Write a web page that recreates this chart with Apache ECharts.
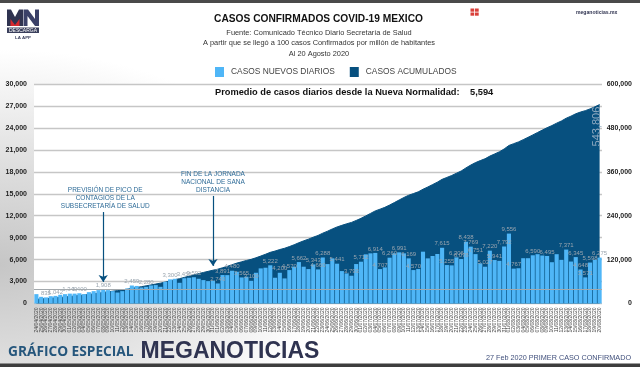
<!DOCTYPE html>
<html><head><meta charset="utf-8">
<style>
html,body{margin:0;padding:0;width:640px;height:367px;overflow:hidden;background:#fff;}
body{background:radial-gradient(ellipse 330px 215px at 0% 72%,#c6c6c6 0%,#dedede 45%,rgba(255,255,255,0) 100%),#fff;}
#c{width:640px;height:367px;}
</style>
<script src="https://cdn.jsdelivr.net/npm/echarts@6/dist/echarts.min.js"></script>
</head><body><div id="c"></div>
<script>
const categories = [
"24/04/2020","25/04/2020","26/04/2020","27/04/2020","28/04/2020","29/04/2020","30/04/2020",
"01/05/2020","02/05/2020","03/05/2020","04/05/2020","05/05/2020","06/05/2020","07/05/2020","08/05/2020","09/05/2020","10/05/2020","11/05/2020","12/05/2020","13/05/2020","14/05/2020","15/05/2020","16/05/2020","17/05/2020","18/05/2020","19/05/2020","20/05/2020","21/05/2020","22/05/2020","23/05/2020","24/05/2020","25/05/2020","26/05/2020","27/05/2020","28/05/2020","29/05/2020","30/05/2020","31/05/2020",
"01/06/2020","02/06/2020","03/06/2020","04/06/2020","05/06/2020","06/06/2020","07/06/2020","08/06/2020","09/06/2020","10/06/2020","11/06/2020","12/06/2020","13/06/2020","14/06/2020","15/06/2020","16/06/2020","17/06/2020","18/06/2020","19/06/2020","20/06/2020","21/06/2020","22/06/2020","23/06/2020","24/06/2020","25/06/2020","26/06/2020","27/06/2020","28/06/2020","29/06/2020","30/06/2020",
"01/07/2020","02/07/2020","03/07/2020","04/07/2020","05/07/2020","06/07/2020","07/07/2020","08/07/2020","09/07/2020","10/07/2020","11/07/2020","12/07/2020","13/07/2020","14/07/2020","15/07/2020","16/07/2020","17/07/2020","18/07/2020","19/07/2020","20/07/2020","21/07/2020","22/07/2020","23/07/2020","24/07/2020","25/07/2020","26/07/2020","27/07/2020","28/07/2020","29/07/2020","30/07/2020","31/07/2020",
"01/08/2020","02/08/2020","03/08/2020","04/08/2020","05/08/2020","06/08/2020","07/08/2020","08/08/2020","09/08/2020","10/08/2020","11/08/2020","12/08/2020","13/08/2020","14/08/2020","15/08/2020","16/08/2020","17/08/2020","18/08/2020","19/08/2020","20/08/2020"];

const dailyCases = [
1280,914,835,1000,1042,1190,1280,1349,1349,1400,1280,1550,1690,1830,1908,1830,1690,1500,1690,2050,2459,2400,2190,2280,2470,2520,2280,2970,3300,3380,2830,3455,3520,3592,3380,3200,3060,
3110,2740,3891,3880,4480,4340,3565,3656,3100,4200,4800,4890,5222,3520,4200,3430,4570,5030,5662,5030,4707,5343,4660,6288,5390,6170,5441,4433,4113,3793,5393,5712,6718,6855,6914,
4707,4935,6260,6855,6991,6855,6169,4570,4707,7083,6169,6489,6763,7615,5255,5210,6306,6078,8438,7769,6751,5484,5027,7220,5941,
5827,7792,9556,4767,4821,6192,6192,6590,6740,6558,6495,5644,6740,5964,7371,5735,6345,4648,3571,5598,5964,6275];

const cumulativeCases = [
11600,12500,13340,14340,15380,16570,17850,19200,20550,21950,23230,24780,26470,28300,30210,32040,33730,35230,36920,38970,41430,43830,46020,48300,50770,53290,55570,58540,61740,65120,67950,71400,74920,78300,81680,84880,87940,
91050,93790,97670,101550,106030,110370,113935,117591,120691,124891,129691,134581,139803,143323,147523,150953,155523,160553,166215,171245,175952,181295,185955,192243,197633,203803,209244,213677,217790,221583,226976,232688,239406,246261,253175,
257882,262817,269077,275932,282923,289778,295947,300517,305224,312307,318476,324965,331728,339343,344598,349808,356114,362192,370630,378399,385150,390634,395661,402881,408822,
414649,422441,431997,436910,441731,447923,454115,460765,467505,474063,480621,486265,493005,498969,506441,512176,518596,523416,527096,532000,537600,543806];

const labelledDays = [2,4,7,9,14,20,23,28,31,33,38,39,41,43,45,49,51,53,55,58,59,60,63,66,68,71,72,74,76,78,79,85,86,88,89,90,91,92,94,95,96,98,99,100,104,107,111,113,114,115,116,118];

const leftTicks = {min:0,max:30000,interval:3000};
const rightTicks = {min:0,max:600000,interval:120000};
const referenceLevel = 1950;
const peakDate = "08/05/2020", peakArrow = [12500,2950], peakNote = "PREVISIÓN DE PICO DE\nCONTAGIOS DE LA\nSUBSECRETARÍA DE SALUD";
const endDate = "31/05/2020", endArrow = [14700,5140], endNote = "FIN DE LA JORNADA\nNACIONAL DE SANA\nDISTANCIA";

const FONT = '"Liberation Sans", Arial, sans-serif';
const BLUE = '#4fb6f7', DARK = '#07507f', NOTE = '#2f6c98', NAVY = '#2f3350';

const chart = echarts.init(document.getElementById('c'), null, {renderer:'canvas'});
const txt = (x,y,text,size,color,extra={}) => ({type:'text',x,y,silent:true,z:20,
  style:Object.assign({text,fontSize:size,fill:color,fontFamily:FONT,textVerticalAlign:'middle'},extra)});
const rect = (x,y,w,h,fill) => ({type:'rect',silent:true,z:20,shape:{x,y,width:w,height:h},style:{fill}});
const poly = (points,fill) => ({type:'polygon',silent:true,z:21,shape:{points},style:{fill}});

chart.setOption({
  animation:false,
  backgroundColor:'transparent',
  textStyle:{fontFamily:FONT},
  grid:{left:34,right:38,top:84,height:219.5,show:true,backgroundColor:'#fff',borderWidth:0},
  legend:{
    left:210,top:62,itemWidth:9,itemHeight:10,itemGap:15,icon:'rect',
    data:['CASOS NUEVOS DIARIOS','CASOS ACUMULADOS'],
    textStyle:{fontFamily:FONT,fontSize:8.4,color:'#444',padding:[0,0,0,2]}
  },
  xAxis:{type:'category',data:categories,boundaryGap:true,
    axisLine:{show:false},axisTick:{show:false},
    axisLabel:{interval:0,rotate:90,fontSize:5,color:'#444',margin:4,fontFamily:FONT,hideOverlap:false}},
  yAxis:[
    Object.assign({type:'value',position:'left',axisLine:{show:false},axisTick:{show:false},
      splitLine:{show:true,lineStyle:{color:'#c6c6c6',width:1.3}},
      axisLabel:{fontSize:7,fontWeight:'bold',color:'#222',margin:7,fontFamily:FONT,
        formatter:v=>v.toLocaleString('en-US')}},leftTicks),
    Object.assign({type:'value',position:'right',axisLine:{show:false},axisTick:{show:false},splitLine:{show:false},
      axisLabel:{fontSize:7,fontWeight:'bold',color:'#222',margin:30,align:'right',fontFamily:FONT,
        formatter:v=>v.toLocaleString('en-US')}},rightTicks)
  ],
  series:[
    {name:'CASOS ACUMULADOS',type:'line',yAxisIndex:1,data:cumulativeCases,symbol:'none',z:2,
      lineStyle:{color:DARK,width:1},itemStyle:{color:DARK},areaStyle:{color:DARK,opacity:1},
      markPoint:{symbol:'circle',symbolSize:0,silent:true,
        data:[{coord:[categories[categories.length-1],cumulativeCases[cumulativeCases.length-1]],
          label:{show:true,formatter:cumulativeCases[cumulativeCases.length-1].toLocaleString('en-US'),rotate:90,
            color:'#8ea9c0',fontSize:11,fontFamily:FONT,offset:[-22,-3],position:'inside'}}]}},
    {name:'CASOS NUEVOS DIARIOS',type:'bar',yAxisIndex:0,data:dailyCases,barCategoryGap:'14%',z:3,
      itemStyle:{color:BLUE},
      label:{show:true,position:'top',distance:1,fontSize:6,color:'#9aa5af',fontFamily:FONT,
        formatter:p=>labelledDays.includes(p.dataIndex)?p.value.toLocaleString('en-US'):''},
      labelLayout:{hideOverlap:false},
      markLine:{silent:true,symbol:'none',label:{show:false},animation:false,
        lineStyle:{color:'#a2a8ac',width:1.2,type:'solid'},
        data:[{yAxis:referenceLevel}]}},
    {type:'line',yAxisIndex:0,data:[],z:5,silent:true,
      markLine:{silent:true,symbol:['none','arrow'],symbolSize:7,label:{show:false},
        lineStyle:{color:DARK,width:1.2,type:'solid'},
        data:[
          [{coord:[peakDate,peakArrow[0]]},{coord:[peakDate,peakArrow[1]]}],
          [{coord:[endDate,endArrow[0]]},{coord:[endDate,endArrow[1]]}]
        ]},
      markPoint:{symbol:'circle',symbolSize:0,silent:true,
        label:{show:true,position:'top',color:NOTE,fontSize:6.5,lineHeight:8,align:'center',fontFamily:FONT},
        data:[
          {coord:[peakDate,peakArrow[0]],label:{formatter:peakNote,offset:[2,3]}},
          {coord:[endDate,endArrow[0]],label:{formatter:endNote,offset:[0,3]}}
        ]}}
  ],
  graphic:[
    rect(0,0,640,3,'#4a4a4a'),
    rect(0,363.5,640,3.5,'#3d3d3d'),
    txt(318.5,19,'CASOS CONFIRMADOS COVID-19 MEXICO',10.2,'#111',{fontWeight:'bold',textAlign:'center'}),
    txt(319,32.5,'Fuente: Comunicado Técnico Diario Secretaría de Salud',7.4,'#333',{textAlign:'center'}),
    txt(319,43,'A partir que se llegó a 100 casos Confirmados por millón de habitantes',7.4,'#333',{textAlign:'center'}),
    txt(319,53.5,'Al 20 Agosto 2020',7.4,'#333',{textAlign:'center'}),
    txt(215,92,'Promedio de casos diarios desde la Nueva Normalidad:',9.28,'#111',{fontWeight:'bold'}),
    txt(470,92,'5,594',9.28,'#111',{fontWeight:'bold'}),
    // MN logo
    poly([[7,9.5],[11,9.5],[15,17],[19,9.5],[23,9.5],[23,26],[7,26]],'#2f3350'),
    poly([[10.5,26],[10.5,19],[15,25],[19.5,19],[19.5,26]],'#d7282f'),
    poly([[23.5,9.5],[28,9.5],[35,19],[35,9.5],[39,9.5],[39,26],[35,26],[27.5,16],[27.5,26],[23.5,26]],'#3a4068'),
    rect(7,27.5,32,5.5,'#3a3f5c'),
    txt(23,30.5,'DESCARGA',5,'#fff',{textAlign:'center'}),
    txt(23,38,'LA APP',4.4,'#3a3f5c',{textAlign:'center',fontWeight:'bold'}),
    // red mark
    rect(470.5,8.5,3.7,3.2,'#d9403a'),rect(475,8.5,3.7,3.2,'#d9403a'),
    rect(470.5,12.5,3.7,3.2,'#d9403a'),rect(475,12.5,3.7,3.2,'#d9403a'),
    txt(576,13,'meganoticias.mx',5.1,NAVY,{fontWeight:'bold'}),
    // footer
    txt(8,352,'GRÁFICO ESPECIAL',13.7,'#25567c',{fontWeight:'bold',fontFamily:'"Open Sans", sans-serif'}),
    txt(140.5,351.5,'MEGANOTICIAS',23,NAVY,{fontWeight:'bold',fontFamily:'"Liberation Sans"'}),
    txt(486,358,'27 Feb 2020 PRIMER CASO CONFIRMADO',7.25,'#41507c')
  ]
});
</script></body></html>
